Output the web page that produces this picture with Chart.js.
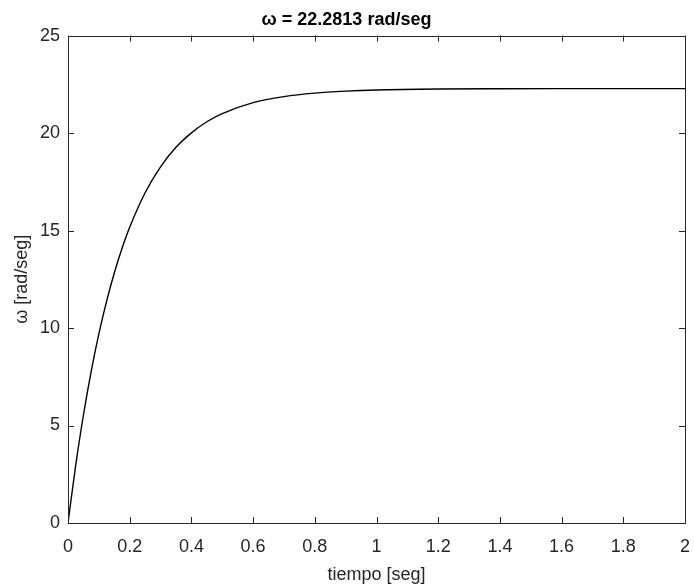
<!DOCTYPE html>
<html>
<head>
<meta charset="utf-8">
<script src="https://cdn.jsdelivr.net/npm/chart.js@4"></script>
<style>
  html, body { margin: 0; padding: 0; background: #fff; }
  #wrap { width: 694px; height: 587px; }
</style>
</head>
<body>
<div id="wrap"><canvas id="omegaChart" width="694" height="587"></canvas></div>
<script>
// valores
const tiempo = [0, 0.025, 0.05, 0.075, 0.1, 0.125, 0.15, 0.175, 0.2, 0.25, 0.3, 0.35,
                0.4, 0.45, 0.5, 0.6, 0.7, 0.8, 0.9, 1.0, 1.2, 1.4, 1.6, 1.8, 2.0];
const omega = [0, 2.97, 5.54, 7.77, 9.70, 11.37, 12.82, 14.08, 15.17, 16.94, 18.27, 19.27,
               20.01, 20.58, 21.00, 21.56, 21.87, 22.05, 22.15, 22.21, 22.26, 22.275, 22.28, 22.281, 22.2813];
const xTicks = [0, 0.2, 0.4, 0.6, 0.8, 1, 1.2, 1.4, 1.6, 1.8, 2];
const yTicks = [0, 5, 10, 15, 20, 25];

const txt = '#262626';
const fam = '"Liberation Sans", Arial, Helvetica, sans-serif';

// caja y marcas hacia adentro, estilo matlab
const boxPlugin = {
    id: 'boxPlugin',
    afterDraw(chart) {
        const { ctx, chartArea: a, scales } = chart;
        const len = 6;
        ctx.save();
        ctx.strokeStyle = txt;
        ctx.lineWidth = 1;
        ctx.beginPath();
        xTicks.forEach(v => {
            const px = Math.round(scales.x.getPixelForValue(v)) + 0.5;
            ctx.moveTo(px, a.bottom); ctx.lineTo(px, a.bottom - len);
            ctx.moveTo(px, a.top); ctx.lineTo(px, a.top + len);
        });
        yTicks.forEach(v => {
            const py = Math.round(scales.y.getPixelForValue(v)) + 0.5;
            ctx.moveTo(a.left, py); ctx.lineTo(a.left + len, py);
            ctx.moveTo(a.right, py); ctx.lineTo(a.right - len, py);
        });
        ctx.stroke();
        ctx.strokeRect(Math.round(a.left) + 0.5, Math.round(a.top) + 0.5,
                       Math.round(a.right - a.left), Math.round(a.bottom - a.top));
        ctx.restore();
    }
};

const ctx = document.getElementById('omegaChart').getContext('2d');

new Chart(ctx, {
    type: 'line',
    data: {
        datasets: [{
            data: tiempo.map((t, i) => ({ x: t, y: omega[i] })),
            borderColor: '#000',
            borderWidth: 1.4,
            pointRadius: 0,
            cubicInterpolationMode: 'monotone',
            fill: false
        }]
    },
    options: {
        responsive: false,
        animation: false,
        layout: { padding: { left: 0, right: 1, top: 0, bottom: 0 } },
        plugins: {
            legend: { display: false },
            tooltip: { enabled: false },
            title: {
                display: true,
                text: 'ω = 22.2813 rad/seg',
                color: '#000',
                font: { family: fam, size: 18, weight: 'bold' },
                padding: { top: 9, bottom: 5 }
            }
        },
        scales: {
            x: {
                type: 'linear',
                min: 0,
                max: 2,
                afterFit(s) { s.height = 64; s.paddingRight = 9; },
                afterBuildTicks(s) { s.ticks = xTicks.map(v => ({ value: v })); },
                grid: { display: false, drawTicks: false },
                border: { display: false },
                ticks: {
                    color: txt,
                    padding: 13,
                    maxRotation: 0,
                    font: { family: fam, size: 18 },
                    callback: v => String(Math.round(v * 10) / 10)
                },
                title: {
                    display: true,
                    text: 'tiempo [seg]',
                    color: txt,
                    font: { family: fam, size: 18 },
                    padding: { top: 0, bottom: 1 }
                }
            },
            y: {
                min: 0,
                max: 25,
                afterFit(s) { s.width = 68; },
                afterBuildTicks(s) { s.ticks = yTicks.map(v => ({ value: v })); },
                grid: { display: false, drawTicks: false },
                border: { display: false },
                ticks: {
                    color: txt,
                    padding: 8,
                    font: { family: fam, size: 18 }
                },
                title: {
                    display: true,
                    text: 'ω [rad/seg]',
                    color: txt,
                    font: { family: fam, size: 18 },
                    padding: { top: 11, bottom: 0 }
                }
            }
        }
    },
    plugins: [boxPlugin]
});
</script>
</body>
</html>
